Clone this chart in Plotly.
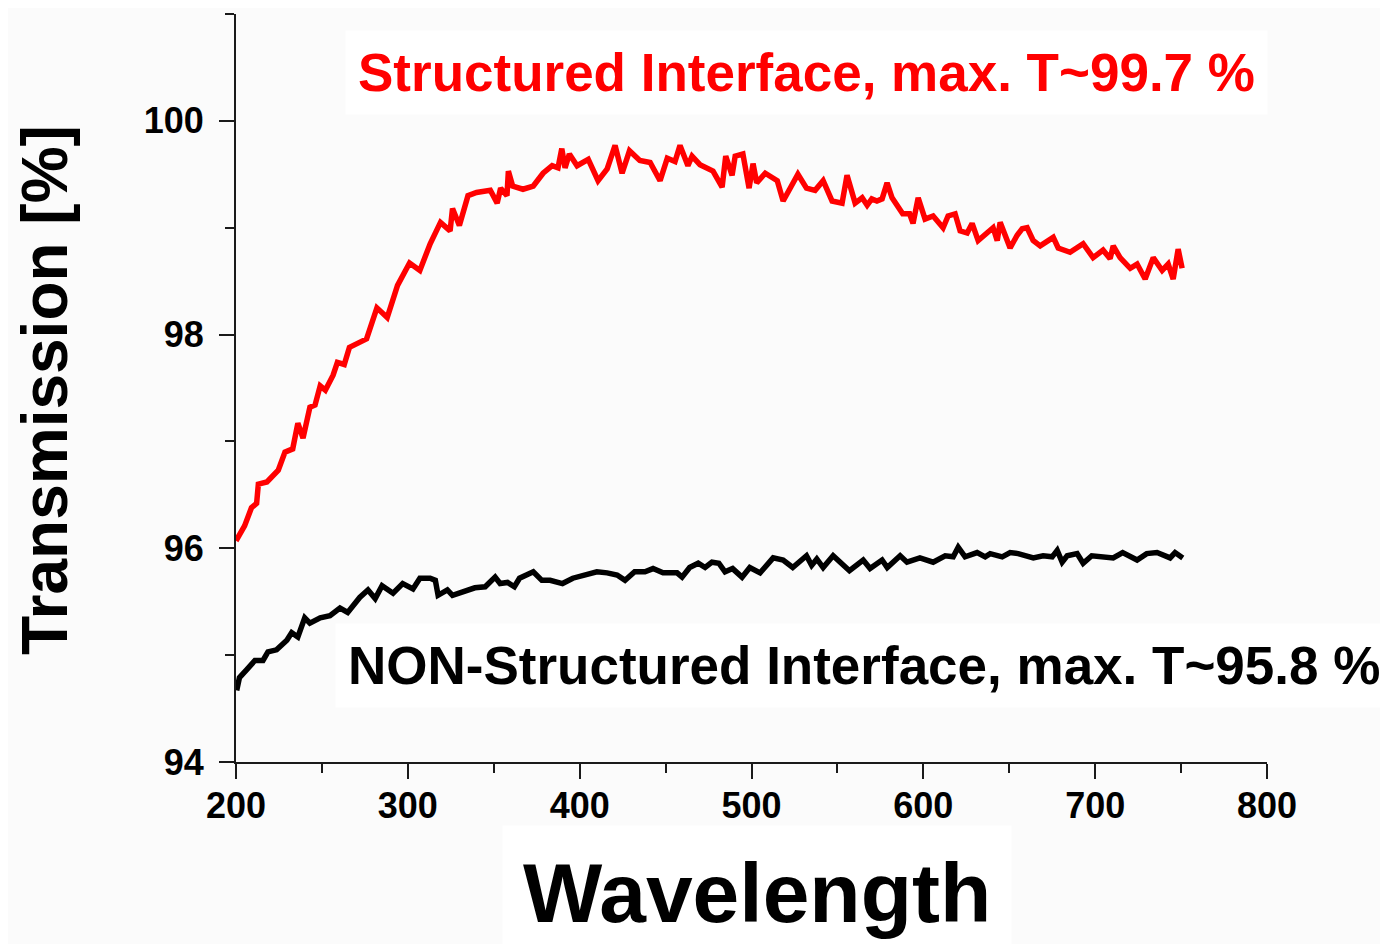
import plotly.graph_objects as go

# Structured interface (red)
red_wl = [200, 205, 209, 212, 213, 218, 224.6, 228.5, 233, 236, 239, 243, 246, 249, 252,
          256.5, 259, 263, 266, 276, 282, 288, 294, 301, 307, 313, 319, 324.6, 326, 330,
          335, 340, 348, 352, 354, 357.7, 358.5, 361, 367, 373, 378.7, 384, 387.4, 389.6,
          391.5, 394, 398.5, 405, 410.7, 416, 420.6, 424.7, 429, 435, 441, 446.8, 451,
          455.5, 458.4, 463, 465.4, 470, 477.6, 482.9, 485, 488.7, 490.5, 495, 498.6,
          500.9, 503, 508, 515, 518.4, 527, 532, 537, 541.7, 546.9, 552.7, 555.6, 560.3,
          564.4, 567.3, 570, 573, 576, 578.9, 581.8, 588, 592, 594, 597, 601, 605.7, 611.5,
          614.4, 618.5, 621.4, 625.5, 628.4, 631.9, 640.6, 643, 644.7, 650.5, 654.6, 657.5,
          660.4, 663.9, 668, 675.6, 678.5, 685.4, 693, 698.8, 704.6, 708.7, 710.5, 714.5,
          720.4, 724.4, 729.1, 733.8, 739, 742.5, 745.4, 748.3, 750.6]
red_T = [96.07, 96.21, 96.38, 96.42, 96.60, 96.62, 96.73, 96.90, 96.93, 97.17, 97.03, 97.32,
         97.34, 97.52, 97.48, 97.62, 97.74, 97.72, 97.88, 97.96, 98.25, 98.16, 98.46, 98.67,
         98.60, 98.85, 99.05, 98.97, 99.18, 99.02, 99.30, 99.33, 99.35, 99.23, 99.37, 99.30,
         99.53, 99.39, 99.36, 99.39, 99.51, 99.58, 99.56, 99.74, 99.56, 99.69, 99.58, 99.64,
         99.44, 99.55, 99.77, 99.51, 99.72, 99.63, 99.61, 99.44, 99.65, 99.62, 99.77, 99.58,
         99.67, 99.59, 99.53, 99.38, 99.67, 99.49, 99.67, 99.69, 99.37, 99.60, 99.42, 99.51,
         99.44, 99.25, 99.50, 99.37, 99.35, 99.44, 99.25, 99.23, 99.49, 99.23, 99.28, 99.21,
         99.27, 99.25, 99.27, 99.42, 99.28, 99.13, 99.13, 99.04, 99.28, 99.08, 99.11, 99.00,
         99.11, 99.13, 98.97, 98.95, 99.04, 98.88, 99.00, 98.88, 99.05, 98.81, 98.93, 98.99,
         99.00, 98.88, 98.83, 98.91, 98.81, 98.77, 98.85, 98.72, 98.79, 98.71, 98.83, 98.72,
         98.62, 98.66, 98.52, 98.72, 98.60, 98.66, 98.52, 98.80, 98.62]

# Non-structured interface (black)
black_wl = [200.4, 202, 206, 211, 215.7, 218.6, 223.6, 229.6, 232.4, 236, 240, 243, 249,
            254.7, 260.5, 265, 272, 276.8, 281, 285, 291.4, 297, 303, 307, 313, 316, 317.6,
            323, 326, 332, 339, 345, 350.8, 353.7, 358, 362, 365, 373, 378, 382.8, 390, 396,
            404, 410, 416, 421.8, 426.4, 432, 438, 442.7, 448.5, 456.7, 459.6, 464, 469, 473,
            477, 481, 484.6, 489, 494.5, 499, 505, 512.6, 518.4, 524, 532, 535, 538, 541.7,
            547.5, 557, 565, 569, 576, 579, 586.5, 590.5, 598, 605.7, 612.7, 617.4, 620.3,
            624.3, 631.3, 636, 638.9, 645.9, 650.5, 655.2, 664, 669.7, 675, 677.9, 680.8,
            683.7, 689.5, 693, 698, 704.6, 710.5, 716, 724.4, 730, 736, 743.6, 746.5, 751]
black_T = [94.67, 94.79, 94.86, 94.95, 94.95, 95.03, 95.05, 95.14, 95.21, 95.17, 95.35, 95.30,
           95.35, 95.37, 95.44, 95.40, 95.54, 95.61, 95.53, 95.65, 95.58, 95.67, 95.62, 95.72,
           95.72, 95.70, 95.56, 95.61, 95.56, 95.59, 95.63, 95.64, 95.73, 95.67, 95.68, 95.64,
           95.72, 95.78, 95.70, 95.70, 95.67, 95.72, 95.75, 95.78, 95.77, 95.75, 95.70, 95.78,
           95.78, 95.81, 95.77, 95.77, 95.73, 95.82, 95.86, 95.82, 95.87, 95.86, 95.78, 95.81,
           95.73, 95.82, 95.77, 95.91, 95.89, 95.82, 95.93, 95.84, 95.90, 95.82, 95.93, 95.79,
           95.89, 95.81, 95.89, 95.82, 95.93, 95.87, 95.91, 95.87, 95.93, 95.92, 96.01, 95.92,
           95.96, 95.92, 95.95, 95.92, 95.96, 95.95, 95.91, 95.93, 95.92, 95.98, 95.87, 95.93,
           95.95, 95.86, 95.93, 95.92, 95.91, 95.96, 95.89, 95.95, 95.96, 95.91, 95.96, 95.91]

x_range = [200, 800]
y_range = [94, 101]
x_tickvals = [200, 300, 400, 500, 600, 700, 800]
y_tickvals = [94, 96, 98, 100]

label_red = "Structured Interface, max. T~99.7 %"
label_black = "NON-Structured Interface, max. T~95.8 %"
x_title = "Wavelength"
y_title = "Transmission [%]"

FONT = "Liberation Sans, Arial, sans-serif"
BG = "#fbfbfb"
AX = "#1a1a1a"

fig = go.Figure()
fig.add_trace(go.Scatter(x=red_wl, y=red_T, mode="lines",
                         line=dict(color="#ff0000", width=5.5), showlegend=False))
fig.add_trace(go.Scatter(x=black_wl, y=black_T, mode="lines",
                         line=dict(color="#000000", width=5.5), showlegend=False))

axis_common = dict(showline=True, linewidth=2, linecolor=AX, showgrid=False, zeroline=False,
                   ticks="outside", ticklen=15, tickwidth=2, tickcolor=AX,
                   tickfont=dict(family=FONT, size=36, color="#000", weight="bold"),
                   mirror=False)

fig.update_xaxes(range=x_range, tickvals=x_tickvals, ticklabelstandoff=-4,
                 minor=dict(ticks="outside", ticklen=9, tickwidth=2, tickcolor=AX, dtick=50),
                 **axis_common)
fig.update_yaxes(range=y_range, tickvals=y_tickvals, ticklabelstandoff=8,
                 minor=dict(ticks="outside", ticklen=9, tickwidth=2, tickcolor=AX, dtick=1),
                 **axis_common)

# The page places the figure 8 px in from the window's top-left corner.
OFF = 8
W, H = 1388 - OFF, 944 - OFF
L, T = 236 - OFF, 14 - OFF
pw, ph = 1031, 748
R, B = W - L - pw, H - T - ph

def px(xp):
    return (xp - OFF - L) / pw

def py(yp):
    return (T + ph - (yp - OFF)) / ph

fig.add_annotation(text=label_red, xref="paper", yref="paper", x=px(806), y=py(73),
                   showarrow=False, xanchor="center", yanchor="middle",
                   font=dict(family=FONT, size=53, color="#ff0000", weight="bold"),
                   bgcolor="white", borderpad=12)
fig.add_annotation(text=label_black, xref="paper", yref="paper", x=px(864), y=py(665),
                   showarrow=False, xanchor="center", yanchor="middle",
                   font=dict(family=FONT, size=53, color="#000000", weight="bold"),
                   bgcolor="white", borderpad=12)
fig.add_annotation(text=x_title, xref="paper", yref="paper", x=px(757), y=py(893),
                   showarrow=False, xanchor="center", yanchor="middle",
                   font=dict(family=FONT, size=84, color="#000000", weight="bold"),
                   bgcolor="white", borderpad=20)
fig.add_annotation(text=y_title, xref="paper", yref="paper", x=px(45), y=py(390),
                   showarrow=False, xanchor="center", yanchor="middle", textangle=-90,
                   font=dict(family=FONT, size=64, color="#000000", weight="bold"))

fig.update_layout(width=W, height=H, margin=dict(l=L, r=R, t=T, b=B),
                  paper_bgcolor=BG, plot_bgcolor=BG, showlegend=False)

fig.write_html("out.html")
